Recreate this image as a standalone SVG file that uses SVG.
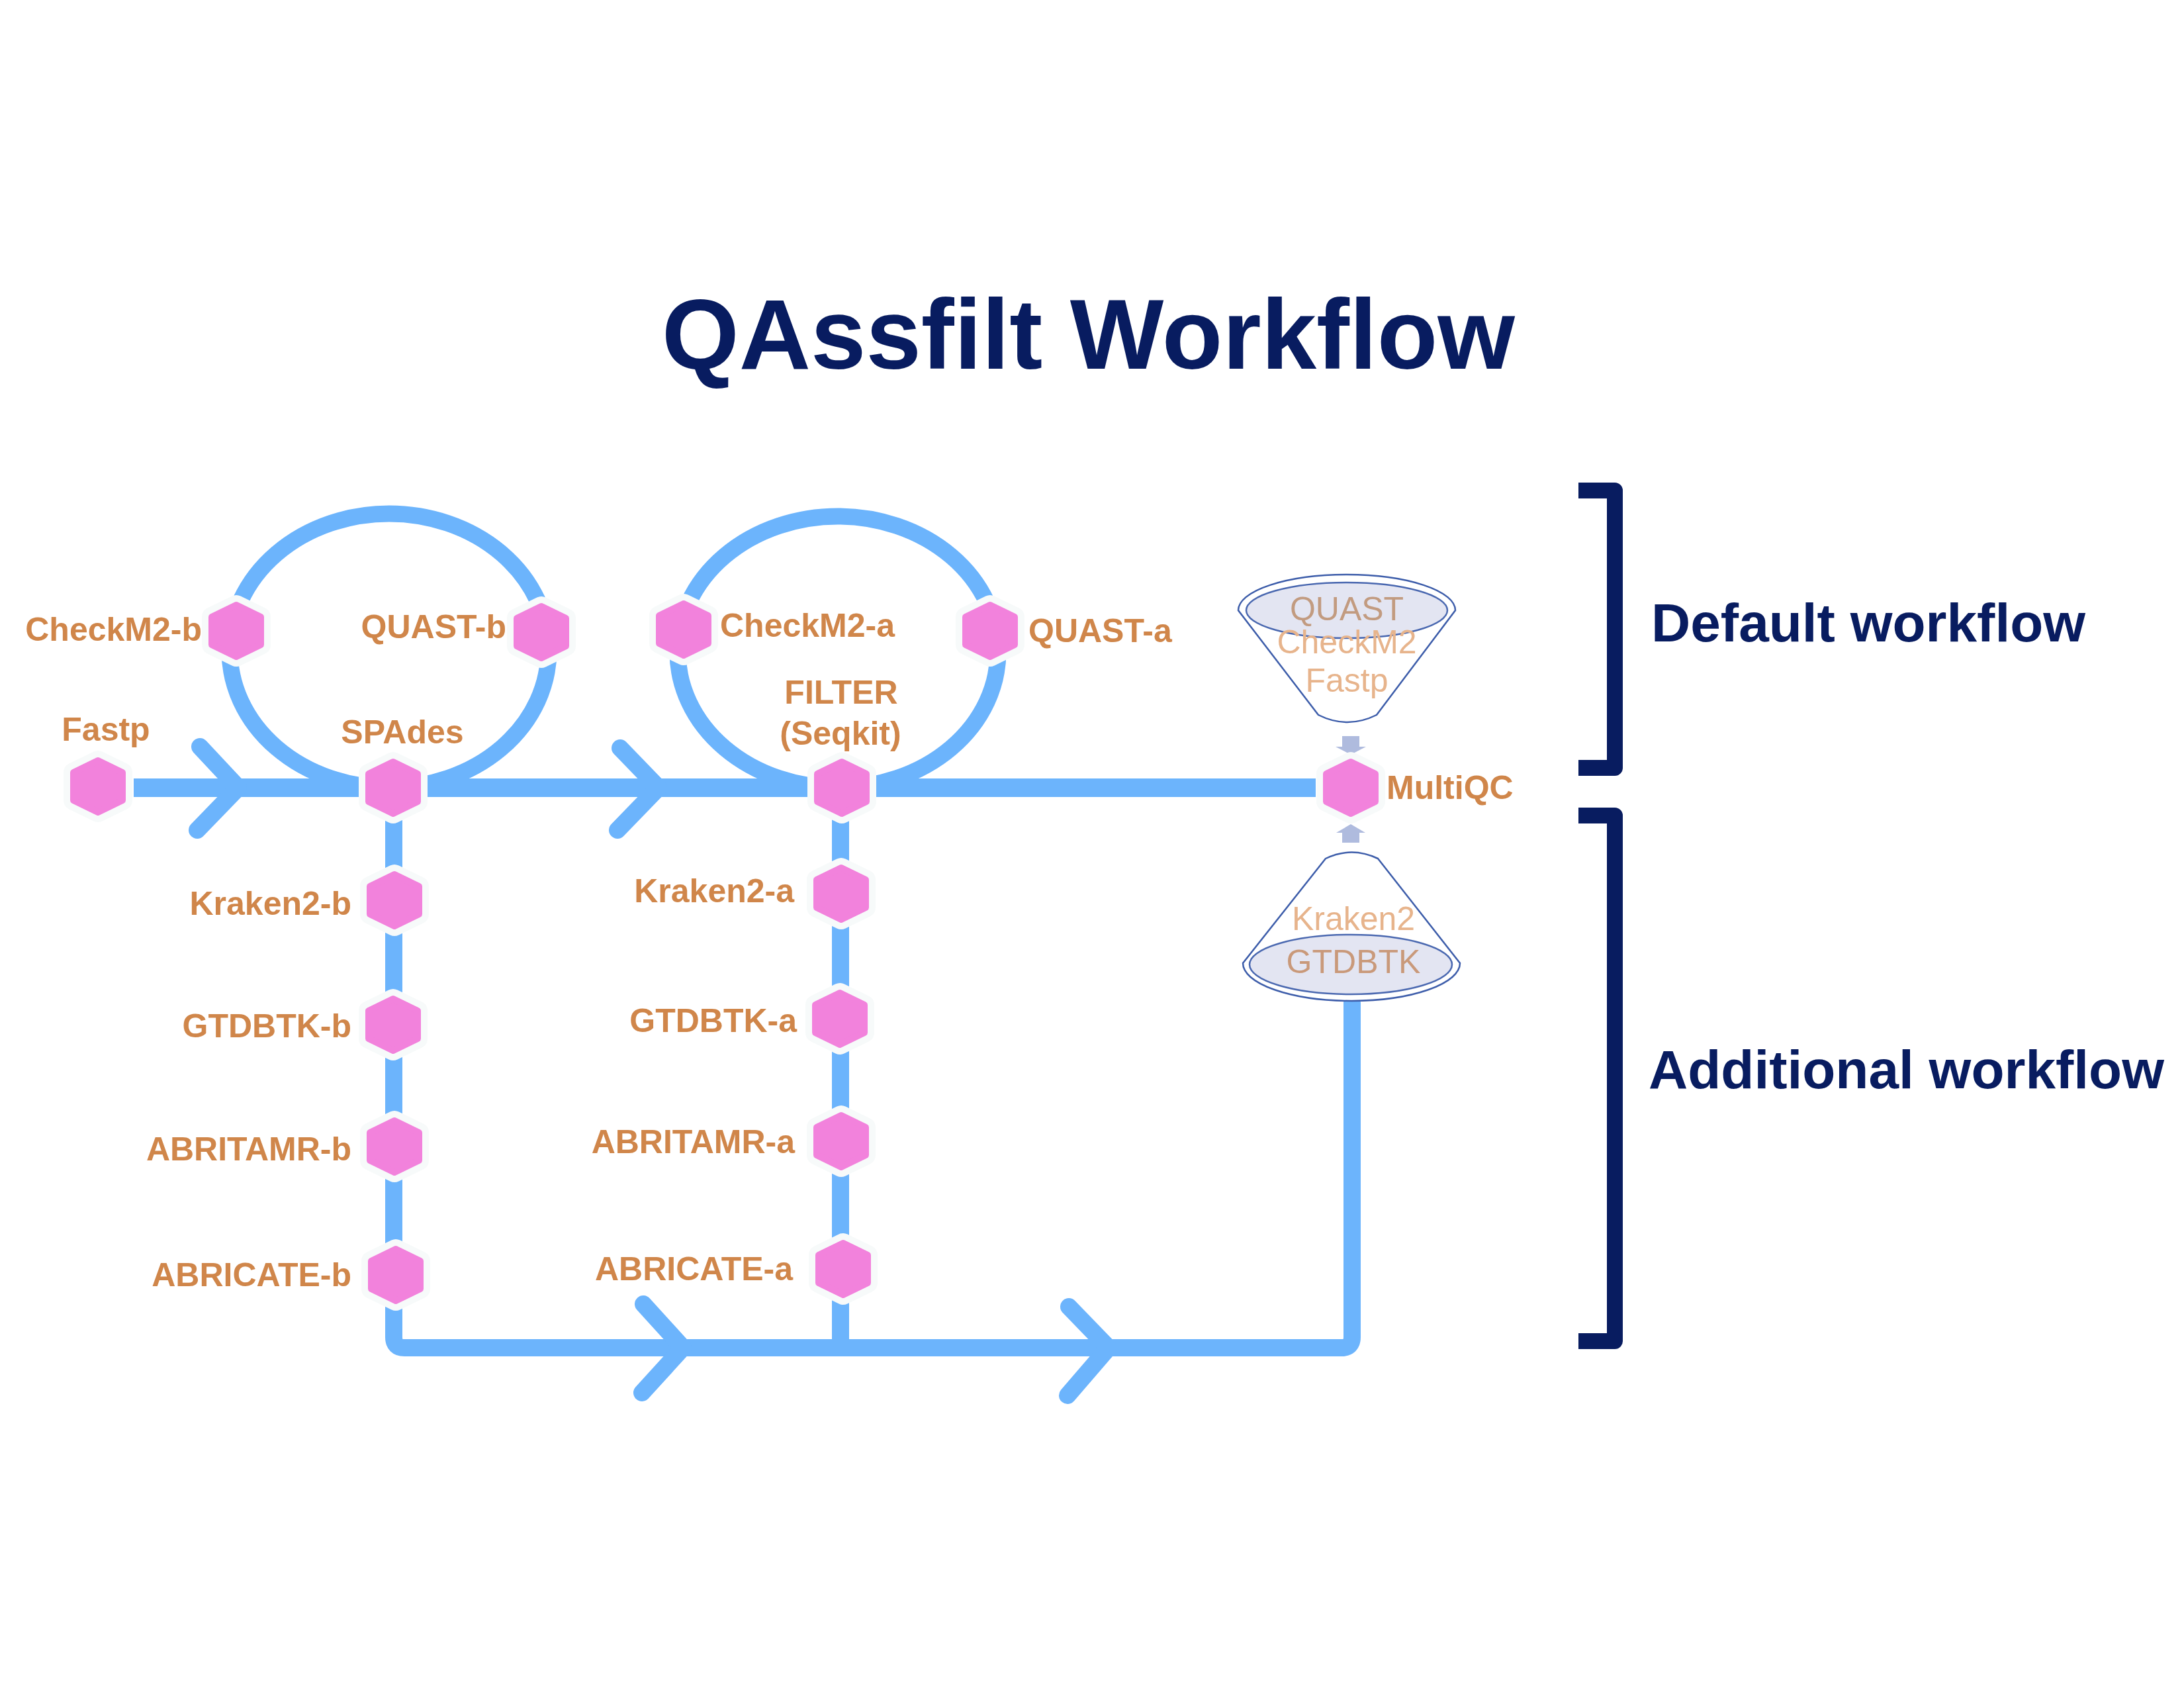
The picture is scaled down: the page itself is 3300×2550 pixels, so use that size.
<svg xmlns="http://www.w3.org/2000/svg" xmlns:xlink="http://www.w3.org/1999/xlink" width="3300" height="2550" viewBox="0 0 3300 2550">
<style>
.lbl{font-family:"Liberation Sans",Arial,sans-serif;font-weight:bold;font-size:50px;fill:#D0864A}
.nav{font-family:"Liberation Sans",Arial,sans-serif;font-weight:bold;fill:#081C60}
.ln{fill:none;stroke:#6CB4FC;stroke-linecap:round;stroke-linejoin:round}
.fun{fill:#FFFFFF;stroke:#3D5DAA;stroke-width:2.5}
.fin{fill:#E3E5F2;stroke:#4A68B0;stroke-width:2.5}
.ft{font-family:"Liberation Sans",Arial,sans-serif;font-size:50px;text-anchor:middle}
.ba{fill:#AFBBDE}
.br{fill:none;stroke:#081C60;stroke-width:24;stroke-linejoin:round}
</style>
<defs>
<g id="hx">
<polygon points="0,-39 37,-21 37,21 0,39 -37,21 -37,-21" fill="#F7FAFA" stroke="#F7FAFA" stroke-width="30" stroke-linejoin="round"/>
<polygon points="0,-39 37,-21 37,21 0,39 -37,21 -37,-21" fill="#F282DC" stroke="#F282DC" stroke-width="10" stroke-linejoin="round"/>
</g>
</defs>
<rect width="3300" height="2550" fill="#FFFFFF"/>
<text class="nav" x="1000" y="557" font-size="150">QAssfilt Workflow</text>
<g id="connectors">
<ellipse class="ln" cx="588" cy="983" rx="241" ry="207" stroke-width="25"/>
<ellipse class="ln" cx="1266" cy="985" rx="242" ry="205" stroke-width="25"/>
<line x1="202" y1="1190" x2="1988" y2="1190" stroke="#6CB4FC" stroke-width="28"/>
<path class="ln" d="M302,1128 L360,1190 L298,1254" stroke-width="26"/>
<path class="ln" d="M937,1130 L995,1190 L933,1254" stroke-width="26"/>
<path d="M595,1190 V2020 Q595,2036 611,2036 H2027 Q2043,2036 2043,2020 V1515" fill="none" stroke="#6CB4FC" stroke-width="26" stroke-linecap="round"/>
<line x1="1270" y1="1190" x2="1270" y2="2030" stroke="#6CB4FC" stroke-width="26"/>
<path class="ln" d="M972,1970 L1032,2036 L970,2104" stroke-width="26"/>
<path class="ln" d="M1615,1974 L1675,2036 L1613,2108" stroke-width="26"/>
<rect class="ba" x="2028" y="1112" width="26" height="17"/>
<polygon class="ba" points="2018,1128 2064,1128 2041,1140"/>
<polygon class="ba" points="2019,1258 2063,1258 2041,1245"/>
<rect class="ba" x="2028" y="1257" width="26" height="16"/>
</g>
<g id="n-fastp"><use xlink:href="#hx" x="148" y="1188"/><text class="lbl" x="160" y="1119" text-anchor="middle">Fastp</text></g>
<g id="n-spades"><use xlink:href="#hx" x="594" y="1190"/><text class="lbl" x="608" y="1123" text-anchor="middle">SPAdes</text></g>
<g id="n-checkm2-b"><use xlink:href="#hx" x="357" y="953"/><text class="lbl" x="305" y="968" text-anchor="end">CheckM2-b</text></g>
<g id="n-quast-b"><use xlink:href="#hx" x="818" y="955"/><text class="lbl" x="765" y="964" text-anchor="end">QUAST-b</text></g>
<g id="n-checkm2-a"><use xlink:href="#hx" x="1033" y="951"/><text class="lbl" x="1088" y="962">CheckM2-a</text></g>
<g id="n-quast-a"><use xlink:href="#hx" x="1496" y="953"/><text class="lbl" x="1554" y="970">QUAST-a</text></g>
<g id="n-filter"><use xlink:href="#hx" x="1272" y="1190"/><text class="lbl" x="1271" y="1063" text-anchor="middle">FILTER</text><text class="lbl" x="1270" y="1125" text-anchor="middle">(Seqkit)</text></g>
<g id="n-multiqc"><use xlink:href="#hx" x="2041" y="1190"/><text class="lbl" x="2095" y="1207">MultiQC</text></g>
<g id="n-kraken2-b"><use xlink:href="#hx" x="596" y="1360"/><text class="lbl" x="531" y="1382" text-anchor="end">Kraken2-b</text></g>
<g id="n-gtdbtk-b"><use xlink:href="#hx" x="594" y="1548"/><text class="lbl" x="531" y="1567" text-anchor="end">GTDBTK-b</text></g>
<g id="n-abritamr-b"><use xlink:href="#hx" x="596" y="1732"/><text class="lbl" x="531" y="1753" text-anchor="end">ABRITAMR-b</text></g>
<g id="n-abricate-b"><use xlink:href="#hx" x="598" y="1926"/><text class="lbl" x="531" y="1943" text-anchor="end">ABRICATE-b</text></g>
<g id="n-kraken2-a"><use xlink:href="#hx" x="1271" y="1350"/><text class="lbl" x="1200" y="1363" text-anchor="end">Kraken2-a</text></g>
<g id="n-gtdbtk-a"><use xlink:href="#hx" x="1269" y="1539"/><text class="lbl" x="1204" y="1559" text-anchor="end">GTDBTK-a</text></g>
<g id="n-abritamr-a"><use xlink:href="#hx" x="1271" y="1724"/><text class="lbl" x="1201" y="1742" text-anchor="end">ABRITAMR-a</text></g>
<g id="n-abricate-a"><use xlink:href="#hx" x="1274" y="1917"/><text class="lbl" x="1198" y="1934" text-anchor="end">ABRICATE-a</text></g>
<g id="funnel-default">
<path class="fun" d="M1871,922 A164,54 0 0 1 2199,922 L2080,1080 Q2036,1102 1992,1080 Z"/>
<ellipse class="fin" cx="2035" cy="922" rx="152" ry="42"/>
<text class="ft" x="2035" y="937" fill="#C29B80">QUAST</text>
<text class="ft" x="2035" y="987" fill="#E7B48C">CheckM2</text>
<text class="ft" x="2035" y="1045" fill="#E7B48C">Fastp</text>
</g>
<g id="funnel-additional">
<path class="fun" d="M2003,1297 Q2042,1278 2082,1297 L2206,1455 A164,57 0 0 1 1878,1455 Z"/>
<ellipse class="fin" cx="2041" cy="1457" rx="153" ry="45"/>
<text class="ft" x="2045" y="1405" fill="#E7B48C">Kraken2</text>
<text class="ft" x="2045" y="1470" fill="#C9997A">GTDBTK</text>
</g>
<g id="bracket-default">
<path class="br" d="M2385,741 H2440 V1160 H2385"/>
<text class="nav" x="2495" y="969" font-size="82">Default workflow</text>
</g>
<g id="bracket-additional">
<path class="br" d="M2385,1232 H2440 V2026 H2385"/>
<text class="nav" x="2491" y="1644" font-size="82">Additional workflow</text>
</g>
</svg>
